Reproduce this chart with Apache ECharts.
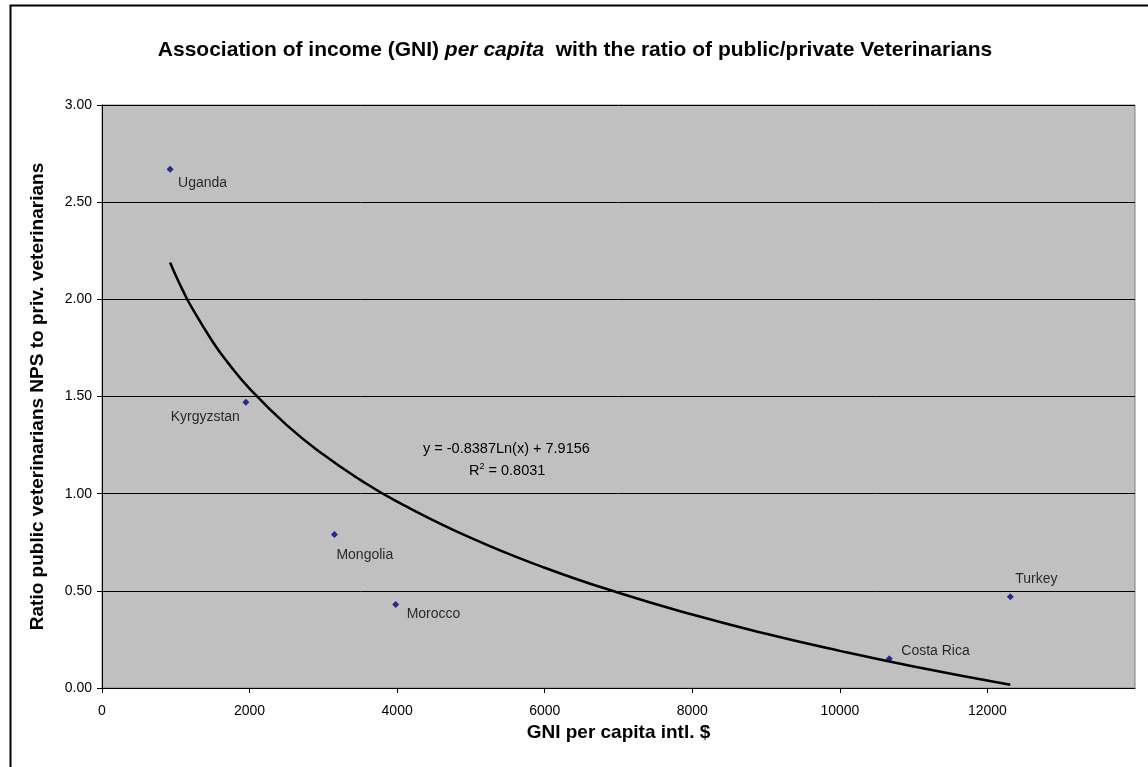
<!DOCTYPE html>
<html>
<head>
<meta charset="utf-8">
<script src="https://cdn.jsdelivr.net/npm/echarts@6/dist/echarts.min.js"></script>
<style>html,body{margin:0;padding:0;background:#fff;}#c{width:1148px;height:767px;}</style>
</head>
<body>
<div id="c"></div>
<script>
var countries = ['Uganda', 'Kyrgyzstan', 'Mongolia', 'Morocco', 'Costa Rica', 'Turkey'];
var gni = [923, 1950, 3150, 3980, 10670, 12310];
var ratio = [2.67, 1.47, 0.79, 0.43, 0.15, 0.47];
var trendX = [923, 1000, 1100, 1200, 1500, 1700, 2000, 2500, 3000, 3500, 4000, 5000, 6000, 7000, 8000, 9000, 10000, 11000, 12310];
var trendY = [2.189, 2.122, 2.042, 1.969, 1.782, 1.677, 1.541, 1.354, 1.201, 1.071, 0.959, 0.772, 0.619, 0.490, 0.378, 0.279, 0.191, 0.111, 0.017];
var xTicks = [0, 2000, 4000, 6000, 8000, 10000, 12000];
var yTicks = ['0.00', '0.50', '1.00', '1.50', '2.00', '2.50', '3.00'];
var labelPos = {
  'Uganda': [8, 14, 'left'],
  'Kyrgyzstan': [-6, 15, 'right'],
  'Mongolia': [2, 21, 'left'],
  'Morocco': [11, 10, 'left'],
  'Costa Rica': [12, -8, 'left'],
  'Turkey': [5, -18, 'left']
};

var chart = echarts.init(document.getElementById('c'), null, {renderer: 'canvas'});
var font = 'Liberation Sans, Arial, Helvetica, sans-serif';
var points = countries.map(function (n, i) {
  var p = labelPos[n];
  return {
    value: [gni[i], ratio[i]],
    name: n,
    label: {show: true, formatter: n, position: [0, 0], offset: [p[0] + 3.5, p[1] + 3.5], align: p[2], verticalAlign: 'middle'}
  };
});
var trend = trendX.map(function (x, i) { return [x, trendY[i]]; });

chart.setOption({
  animation: false,
  backgroundColor: '#ffffff',
  textStyle: {fontFamily: font},
  graphic: [
    {type: 'rect', shape: {x: 10.5, y: 5.5, width: 1300, height: 1000}, style: {fill: 'none', stroke: '#000', lineWidth: 2}, z: 100},
    {type: 'text', left: 423, top: 441, style: {text: 'y = -0.8387Ln(x) + 7.9156', font: '14.5px ' + font, fill: '#000'}, z: 50},
    {type: 'text', left: 469, top: 462, style: {text: 'R{s|2} = 0.8031', rich: {s: {fontSize: 9, verticalAlign: 'top', padding: [0, 0, 9, 0]}}, font: '14.5px ' + font, fill: '#000'}, z: 50}
  ],
  title: {
    text: 'Association of income (GNI) {i|per capita}  with the ratio of public/private Veterinarians',
    left: 570, top: 35, textAlign: 'center',
    textStyle: {fontSize: 21, fontWeight: 'bold', color: '#000', fontFamily: font,
      rich: {i: {fontSize: 21, fontWeight: 'bold', fontStyle: 'italic', color: '#000', fontFamily: font}}}
  },
  grid: {left: 102, right: 13, top: 105, bottom: 79, show: true, backgroundColor: '#c0c0c0', borderColor: '#808080', borderWidth: 1},
  xAxis: {
    type: 'value', min: 0, max: 14000, interval: 2000,
    name: 'GNI per capita intl. $', nameLocation: 'middle', nameGap: 32,
    nameTextStyle: {fontSize: 19, fontWeight: 'bold', color: '#000', fontFamily: font},
    axisLine: {show: true, lineStyle: {color: '#000', width: 1}},
    axisTick: {show: true, length: 5, lineStyle: {color: '#000'}},
    axisLabel: {color: '#000', fontSize: 14, margin: 16, showMaxLabel: false,
      formatter: function (v) { return xTicks.indexOf(v) >= 0 ? String(v) : ''; }},
    splitLine: {show: false}
  },
  yAxis: {
    type: 'value', min: 0, max: 3, interval: 0.5,
    name: 'Ratio public veterinarians NPS to priv. veterinarians', nameLocation: 'middle', nameGap: 55,
    nameTextStyle: {fontSize: 19, fontWeight: 'bold', color: '#000', fontFamily: font},
    axisLine: {show: true, lineStyle: {color: '#000', width: 1}},
    axisTick: {show: true, length: 5, lineStyle: {color: '#000'}},
    axisLabel: {color: '#000', fontSize: 14, margin: 10,
      formatter: function (v) { return yTicks[Math.round(v * 2)]; }},
    splitLine: {show: true, lineStyle: {color: '#000', width: 1}}
  },
  series: [
    {
      type: 'line', data: trend, smooth: true, showSymbol: false, symbol: 'none',
      lineStyle: {color: '#000', width: 2.5}, z: 3, silent: true
    },
    {
      type: 'scatter', data: points, symbol: 'diamond', symbolSize: 7,
      itemStyle: {color: '#000080'}, z: 4,
      label: {color: '#000', fontSize: 14, fontFamily: font}
    }
  ]
});
</script>
</body>
</html>
